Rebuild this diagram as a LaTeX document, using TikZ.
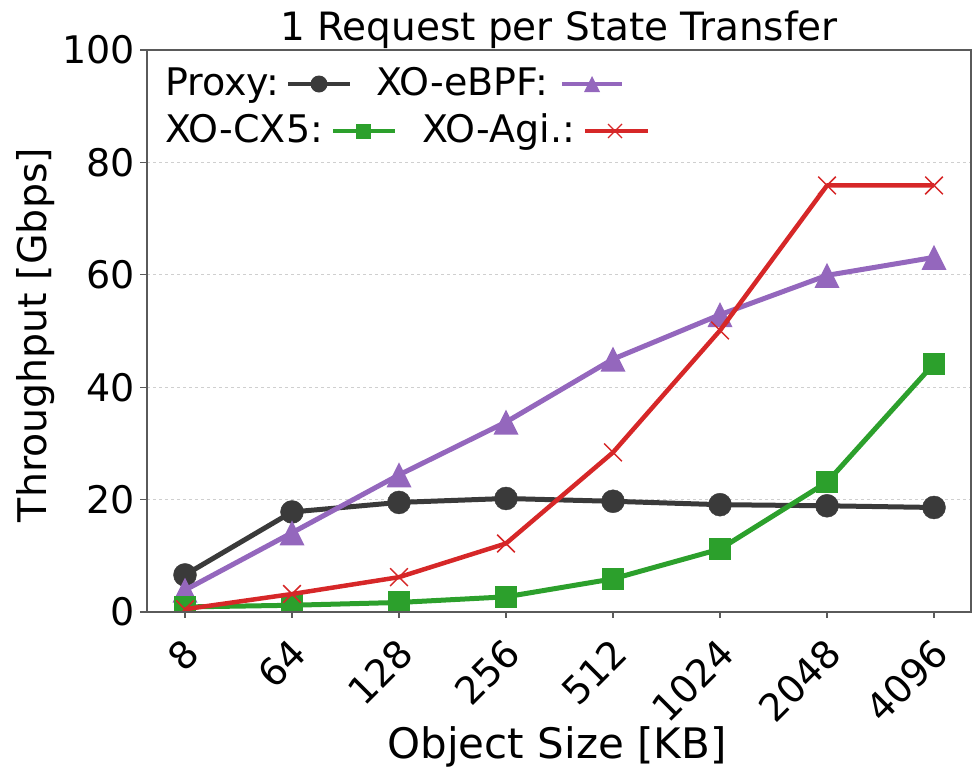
\documentclass[tikz,border=0pt]{standalone}
\usepackage{fontspec}
\setmainfont{DejaVu Sans}
\definecolor{cproxy}{HTML}{3A3A3A}
\definecolor{cebpf}{HTML}{9467BD}
\definecolor{ccx}{HTML}{2CA02C}
\definecolor{cagi}{HTML}{D62728}
\definecolor{cspine}{HTML}{5A5A5A}
\definecolor{cgrid}{HTML}{CFCFCF}
% upward triangle as drawn by matplotlib's '^' marker
\pgfdeclareplotmark{utri}{%
  \pgfpathmoveto{\pgfqpoint{0pt}{\pgfplotmarksize}}%
  \pgfpathlineto{\pgfqpoint{-\pgfplotmarksize}{-\pgfplotmarksize}}%
  \pgfpathlineto{\pgfqpoint{\pgfplotmarksize}{-\pgfplotmarksize}}%
  \pgfpathclose\pgfusepathqfill}
% filled square marker
\pgfdeclareplotmark{fsq}{%
  \pgfpathrectanglecorners{\pgfqpoint{-\pgfplotmarksize}{-\pgfplotmarksize}}{\pgfqpoint{\pgfplotmarksize}{\pgfplotmarksize}}%
  \pgfusepathqfill}
\tikzset{
  txt/.style={font=\fontsize{38}{44}\selectfont, inner sep=0pt, text=black},
  titletxt/.style={font=\fontsize{39}{46}\selectfont, inner sep=0pt, text=black},
  series/.style={line width=5pt, line join=round, line cap=butt},
  gridline/.style={cgrid, line width=1.2pt, dash pattern=on 3pt off 3pt},
  spine/.style={cspine, line width=1.6pt},
  tickmark/.style={cspine, line width=1.2pt},
  legline/.style={line width=4pt},
}
\begin{document}
\begin{tikzpicture}[x=1pt, y=-1pt]
\useasboundingbox (0,0) rectangle (974,769);

% horizontal grid
\foreach \v in {20,40,60,80} {
  \draw[gridline] (147,{612-5.62*\v}) -- (971,{612-5.62*\v});
}

% data series, clipped to the axes area
\begin{scope}
  \clip (147,50) rectangle (971,612);
  \begin{scope}[shift={(185,612)}, x=107pt, y=5.62pt]
    \draw[series, cproxy] plot[mark=*, mark size=11.5pt, mark options={line width=0.4pt}]
      coordinates {(0,6.6) (1,17.8) (2,19.5) (3,20.2) (4,19.7) (5,19.1) (6,18.9) (7,18.6)};
    \draw[series, cebpf] plot[mark=utri, mark size=12.5pt]
      coordinates {(0,3.9) (1,14.1) (2,24.4) (3,33.8) (4,45.0) (5,52.9) (6,59.9) (7,63.1)};
    \draw[series, ccx] plot[mark=fsq, mark size=11pt]
      coordinates {(0,0.9) (1,1.2) (2,1.7) (3,2.7) (4,5.9) (5,11.2) (6,23.1) (7,44.2)};
    \draw[series, cagi, line width=4.5pt] plot[mark=x, mark size=12.5pt, mark options={line width=1.5pt}]
      coordinates {(0,0.5) (1,3.2) (2,6.2) (3,12.2) (4,28.4) (5,50.1) (6,75.9) (7,75.9)};
  \end{scope}
\end{scope}

% axes frame and ticks
\draw[spine] (147,50) rectangle (971,612);
\foreach \v in {0,20,40,60,80,100} {
  \draw[tickmark] (140,{612-5.62*\v}) -- (147,{612-5.62*\v});
  \node[txt, anchor=east] (yt\v) at (135,{612-5.62*\v}) {\v};
}
\foreach \lab [count=\i from 0] in {8,64,128,256,512,1024,2048,4096} {
  \draw[tickmark] ({185+107*\i},612) -- ({185+107*\i},618);
}
\begin{scope}
  \clip (0,612) rectangle (974,722);
  \foreach \lab [count=\i from 0] in {8,64,128,256,512,1024,2048,4096} {
    \node[txt, rotate=45, anchor=north east, text height=27pt, text depth=0pt]
      (xt\i) at ({185+107*\i-2},637) {\lab};
  }
\end{scope}

% title and axis labels
\node[titletxt, anchor=base] (title) at (559,40) {1 Request per State Transfer};
\node[font=\fontsize{42}{48}\selectfont, inner sep=0pt, anchor=base] (xlabel) at (557,758) {Object Size [KB]};
\node[font=\fontsize{39.5}{46}\selectfont, inner sep=0pt, rotate=90, anchor=center] (ylabel) at (36,335) {Throughput [Gbps]};

% legend
\node[txt, anchor=base west] (lgproxy) at (165,95) {Proxy:};
\draw[legline, cproxy] (288,84) -- (350,84);
\fill[cproxy] (319,84) circle (8.5);
\node[txt, anchor=base west] (lgebpf) at (376,95) {XO-eBPF:};
\draw[legline, cebpf] (562,84) -- (622,84);
\fill[cebpf] (592,76) -- (584,92) -- (600,92) -- cycle;
\node[txt, anchor=base west] (lgcx) at (165,142) {XO-CX5:};
\draw[legline, ccx] (333,131) -- (395,131);
\fill[ccx] (356,124) rectangle (371,139);
\node[txt, anchor=base west] (lgagi) at (422,142) {XO-Agi.:};
\draw[legline, cagi] (585,131) -- (648,131);
\draw[cagi, line width=1.3pt] (608,124) -- (622,138) (608,138) -- (622,124);
\end{tikzpicture}
\end{document}
